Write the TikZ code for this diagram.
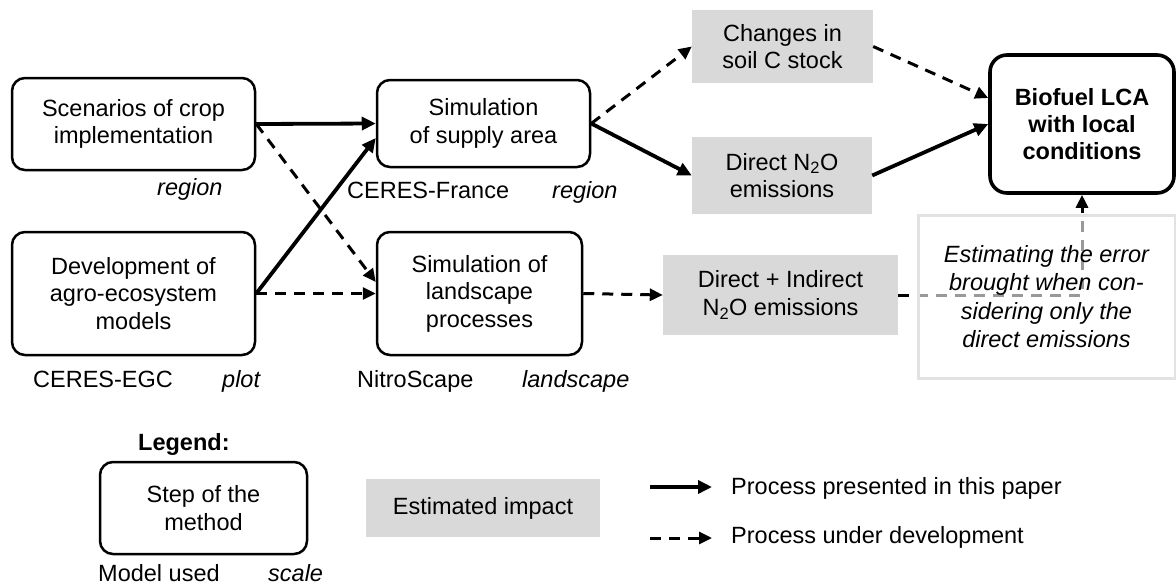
\documentclass[tikz,border=0pt]{standalone}
\usepackage{fontspec}
\setmainfont{Liberation Sans}
\usetikzlibrary{arrows.meta,calc}
\definecolor{impactgray}{RGB}{217,217,217}
\definecolor{framegray}{RGB}{226,226,226}
\begin{document}
\begin{tikzpicture}[x=1pt,y=-1pt,
  txt/.style={font=\fontsize{23.5}{27.5}\selectfont},
  every node/.style={txt, inner sep=0pt, align=center},
  stepbox/.style={draw, line width=2.5pt, rounded corners=13pt, fill=white},
  impactbox/.style={fill=impactgray},
  lab/.style={anchor=base west},
  ilab/.style={anchor=base west, font=\fontsize{23.5}{27.5}\selectfont\itshape},
  done/.style={line width=3.8pt, -{Triangle[length=14pt,width=13pt]}},
  todo/.style={line width=3pt, dash pattern=on 11pt off 8pt, -{Triangle[length=13pt,width=12pt]}},
]
\useasboundingbox (0,0) rectangle (1176,587);

% method steps
\node[stepbox, minimum width=243pt, minimum height=92pt] (scen) at (133.5,124)
  {Scenarios of crop\\implementation};
\node[stepbox, minimum width=243pt, minimum height=123pt] (dev) at (133.5,293.5)
  {Development of\\agro-ecosystem\\models};
\node[stepbox, minimum width=213pt, minimum height=87pt] (supply) at (483.5,123.5)
  {Simulation\\of supply area};
\node[stepbox, minimum width=205pt, minimum height=123pt] (land) at (479.5,293.5)
  {Simulation of\\landscape\\processes};

% models and scales
\node[ilab] (scenscale) at (157,195) {region};
\node[lab] (supplymodel) at (347,198) {CERES-France};
\node[ilab] (supplyscale) at (552,198) {region};
\node[lab] (devmodel) at (33,387) {CERES-EGC};
\node[ilab] (devscale) at (222,387) {plot};
\node[lab] (landmodel) at (357,387) {NitroScape};
\node[ilab] (landscale) at (522,387) {landscape};

% estimated impacts
\node[impactbox, minimum width=181pt, minimum height=73pt] (changes) at (782.5,46.5)
  {Changes in\\soil C stock};
\node[impactbox, minimum width=180pt, minimum height=77pt] (direct) at (782,175.5)
  {Direct N\textsubscript{2}O\\emissions};
\node[impactbox, minimum width=235pt, minimum height=80pt] (indirect) at (780.5,295)
  {Direct + Indirect\\N\textsubscript{2}O emissions};

% final step
\node[draw, line width=3.6pt, rounded corners=17pt, minimum width=184pt, minimum height=138pt,
  font=\fontsize{23.5}{27}\selectfont\bfseries] (bio) at (1082,124)
  {Biofuel LCA\\with local\\conditions};

% processes
\draw[done] (scen.east) -- (supply.west);
\draw[todo] (scen.east) -- ($(land.west)+(0,-11.5)$);
\draw[done] (dev.east) -- ($(supply.west)+(0,14.5)$);
\draw[todo] (dev.east) -- (land.west);
\draw[todo] (supply.east) -- (changes.west);
\draw[done] (supply.east) -- (direct.west);
\draw[todo] (land.east) -- (indirect.west);
\draw[todo] (changes.east) -- ($(bio.west)+(0,-26)$);
\draw[done] (direct.east) -- (bio.west);
\draw[todo] (indirect.east) -| (bio.south);

% error estimate, laid over the comparison line
\node[draw=framegray, line width=3pt, fill=white, fill opacity=0.6, text opacity=1,
  minimum width=257pt, minimum height=163pt,
  font=\fontsize{23.5}{28.5}\selectfont\itshape] (est) at (1046.5,296.5)
  {Estimating the error\\brought when con-\\sidering only the\\direct emissions};

% legend
\node[lab, font=\fontsize{23.5}{27.5}\selectfont\bfseries] (legtitle) at (138,450) {Legend:};
\node[stepbox, minimum width=207pt, minimum height=92pt] (legstep) at (203.5,508)
  {Step of the\\method};
\node[lab] (legmodel) at (98,581) {Model used};
\node[ilab] (legscale) at (268,581) {scale};
\node[impactbox, minimum width=234pt, minimum height=58pt] (legimpact) at (483,508)
  {Estimated impact};
\coordinate (lasolidA) at (650,487);
\coordinate (lasolidB) at (712,487);
\coordinate (ladashA) at (650,538);
\coordinate (ladashB) at (712,538);
\draw[done] (lasolidA) -- (lasolidB);
\draw[todo] (ladashA) -- (ladashB);
\node[lab] (legdone) at (731,494) {Process presented in this paper};
\node[lab] (legtodo) at (731,543) {Process under development};
\end{tikzpicture}
\end{document}
